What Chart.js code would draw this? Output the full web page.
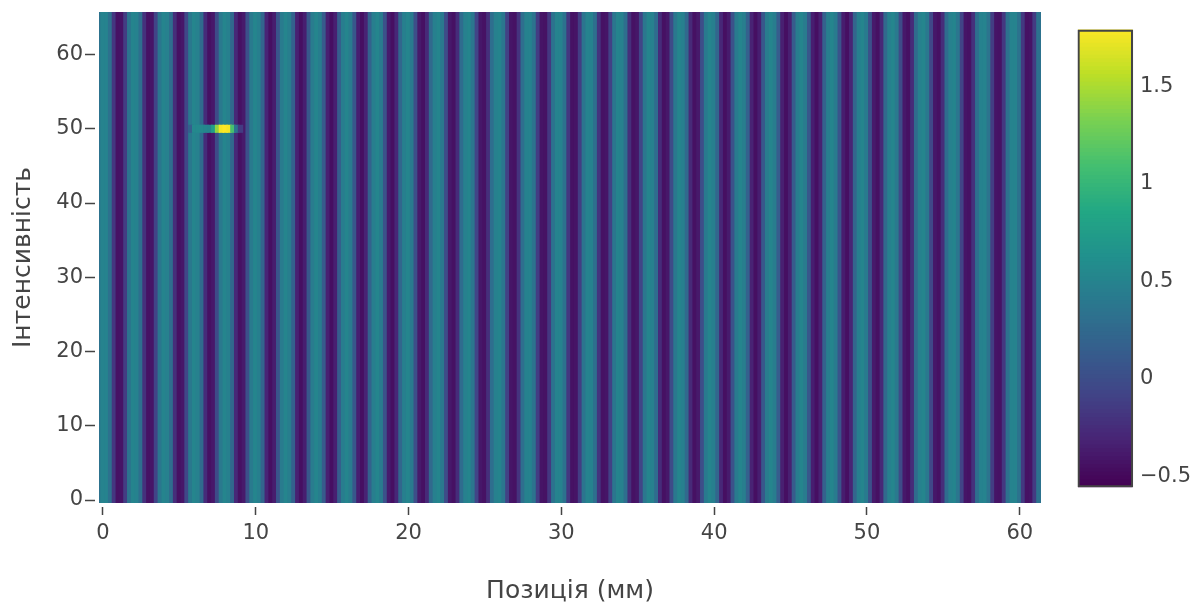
<!DOCTYPE html>
<html>
<head>
<meta charset="utf-8">
<title>Heatmap</title>
<script src="https://cdn.jsdelivr.net/npm/chart.js@4"></script>
<style>
  html, body { margin: 0; padding: 0; background: #fff; }
  canvas { display: block; }
</style>
</head>
<body>
<canvas id="heatmap" width="1203" height="605"></canvas>
<script>
const xTicks = [0, 10, 20, 30, 40, 50, 60];
const yTicks = [0, 10, 20, 30, 40, 50, 60];
const colorbarTicks = [-0.5, 0, 0.5, 1, 1.5];

// one value per 0.25 mm column, first column at -0.25 mm
const columnValues = [
  .33,
  .49,.49,.32,-.18,-.44,-.43,-.14,.34,
  .50,.48,.30,-.23,-.44,-.42,-.09,.36,
  .50,.47,.28,-.25,-.45,-.41,-.06,.38,
  .51,.47,.26,-.27,-.45,-.40,-.03,.39,
  .51,.46,.23,-.29,-.45,-.39,.02,.40,
  .51,.45,.20,-.32,-.46,-.37,.05,.41,
  .51,.44,.17,-.34,-.46,-.36,.08,.42,
  .51,.43,.11,-.35,-.46,-.35,.13,.43,
  .51,.42,.08,-.36,-.46,-.33,.17,.44,
  .51,.41,.03,-.38,-.46,-.30,.21,.45,
  .51,.40,.00,-.39,-.45,-.28,.24,.46,
  .51,.38,-.03,-.40,-.45,-.26,.27,.47,
  .51,.37,-.08,-.41,-.44,-.24,.29,.47,
  .50,.36,-.11,-.42,-.44,-.21,.30,.48,
  .49,.34,-.14,-.43,-.44,-.18,.33,.49,
  .49,.33,-.18,-.44,-.43,-.14,.34,.49,
  .48,.30,-.21,-.44,-.42,-.11,.36,.50,
  .47,.29,-.24,-.44,-.41,-.08,.37,.51,
  .47,.27,-.26,-.45,-.40,-.03,.38,.51,
  .46,.24,-.28,-.45,-.39,.00,.40,.51,
  .45,.21,-.30,-.46,-.38,.03,.41,.51,
  .44,.17,-.33,-.46,-.36,.08,.42,.51,
  .43,.13,-.35,-.46,-.35,.11,.43,.51,
  .42,.08,-.36,-.46,-.34,.17,.44,.51,
  .41,.05,-.37,-.46,-.32,.20,.45,.51,
  .40,.02,-.39,-.45,-.29,.24,.46,.51,
  .39,-.03,-.40,-.45,-.27,.26,.47,.51,
  .38,-.06,-.41,-.45,-.25,.28,.47,.50,
  .36,-.09,-.42,-.44,-.23,.30,.48,.49,
  .34,-.14,-.43,-.44,-.18,.32,.49,.49,
  .33,-.17,-.44,-.43,-.15,.33
];

// the spike on the row at intensity 50
const spikeRow = 50;
const spikeX = [5.75, 6, 6.25, 6.5, 6.75, 7, 7.25, 7.5, 7.75, 8, 8.25, 8.5, 8.75, 9];
const spikeValues = [.15, .55, .55, .55, .52, .50, .75, 1.40, 1.75, 1.79, 1.75, 1.10, .35, -.15];

const zMin = -0.556;
const zMax = 1.788;
const viridis = ['#440154', '#482475', '#414487', '#355f8d', '#2a788e', '#21908d', '#22a884', '#44bf70', '#7ad151', '#bddf26', '#fde725'];

function hexToRgb(h) {
  return [1, 3, 5].map(i => parseInt(h.slice(i, i + 2), 16));
}

function colorFor(v) {
  const t = Math.min(1, Math.max(0, (v - zMin) / (zMax - zMin))) * (viridis.length - 1);
  const i = Math.min(viridis.length - 2, Math.floor(t));
  const a = hexToRgb(viridis[i]);
  const b = hexToRgb(viridis[i + 1]);
  const c = a.map((n, k) => Math.round(n + (b[k] - n) * (t - i)));
  return `rgb(${c[0]},${c[1]},${c[2]})`;
}

const xMin = -0.26;
const xMax = 61.39;
const yMin = -0.4;
const yMax = 65.73;
const colorbarX = 65.6; // sits past the plot, to the right

const columnData = columnValues.map((v, i) => ({ x: -0.25 + i * 0.25, y: [yMin, yMax] }));
const spikeData = spikeX.map(x => ({ x: x, y: [spikeRow - 0.5, spikeRow + 0.5] }));

const colorbarLevels = [];
for (let z = zMin; z < zMax - 0.01; z += 0.02) colorbarLevels.push(z);
const colorbarData = colorbarLevels.map(z => ({ x: colorbarX, y: [z, Math.min(zMax, z + 0.025)] }));

const tickFont = { family: '"DejaVu Sans"', size: 21, lineHeight: 1 };
const titleFont = { family: '"DejaVu Sans"', size: 25, lineHeight: 1.1 };
const textColor = '#444';

new Chart(document.getElementById('heatmap').getContext('2d'), {
  type: 'bar',
  data: {
    datasets: [
      {
        data: spikeData,
        backgroundColor: spikeValues.map(colorFor),
        barThickness: 4.7,
        grouped: false,
        order: 1
      },
      {
        data: columnData,
        backgroundColor: columnValues.map(colorFor),
        barThickness: 4.7,
        grouped: false,
        order: 2
      },
      {
        data: colorbarData,
        yAxisID: 'cb',
        backgroundColor: colorbarLevels.map(colorFor),
        barThickness: 54,
        grouped: false,
        clip: false,
        order: 1
      },
      {
        data: [{ x: colorbarX, y: [zMin, zMax] }],
        yAxisID: 'cb',
        backgroundColor: 'rgba(0,0,0,0)',
        borderColor: '#444',
        borderWidth: 1.5,
        borderSkipped: false,
        barThickness: 55,
        grouped: false,
        clip: false,
        order: 0
      }
    ]
  },
  options: {
    responsive: false,
    animation: false,
    layout: { padding: { top: 12, left: 0, right: 0, bottom: 0 } },
    plugins: {
      legend: { display: false },
      tooltip: { enabled: false }
    },
    scales: {
      x: {
        type: 'linear',
        offset: false,
        min: xMin,
        max: xMax,
        afterBuildTicks: s => { s.ticks = xTicks.map(v => ({ value: v })); },
        afterFit: s => { s.height = 102; },
        ticks: {
          color: textColor,
          font: tickFont,
          padding: 8,
          autoSkip: false,
          maxRotation: 0,
          callback: v => String(v)
        },
        grid: {
          offset: false,
          drawOnChartArea: false,
          tickColor: textColor,
          tickLength: 12,
          tickWidth: 1.5,
          tickBorderDash: [0, 4, 8, 100]
        },
        border: { display: false },
        title: {
          display: true,
          text: 'Позиція (мм)',
          color: textColor,
          font: titleFont,
          padding: { top: 0, bottom: 0 }
        }
      },
      y: {
        type: 'linear',
        position: 'left',
        min: yMin,
        max: yMax,
        afterBuildTicks: s => { s.ticks = yTicks.map(v => ({ value: v })); },
        afterFit: s => { s.width = 99; },
        ticks: {
          color: textColor,
          font: tickFont,
          padding: 0,
          autoSkip: false,
          callback: v => String(v)
        },
        grid: {
          drawOnChartArea: false,
          tickColor: textColor,
          tickLength: 16,
          tickWidth: 1.5,
          tickBorderDash: [0, 2, 10, 100]
        },
        border: { display: false },
        title: {
          display: true,
          text: 'Інтенсивність',
          color: textColor,
          font: titleFont,
          padding: { top: 10, bottom: 0 }
        }
      },
      cb: {
        type: 'linear',
        position: 'right',
        min: -0.638,
        max: 1.88,
        afterBuildTicks: s => { s.ticks = colorbarTicks.map(v => ({ value: v })); },
        afterFit: s => { s.width = 162; },
        ticks: {
          color: textColor,
          font: tickFont,
          padding: 0,
          autoSkip: false,
          callback: v => (v < 0 ? '\u2212' + Math.abs(v) : String(v))
        },
        grid: {
          drawOnChartArea: false,
          tickColor: 'rgba(0,0,0,0)',
          tickLength: 99
        },
        border: { display: false }
      }
    }
  }
});
</script>
</body>
</html>
